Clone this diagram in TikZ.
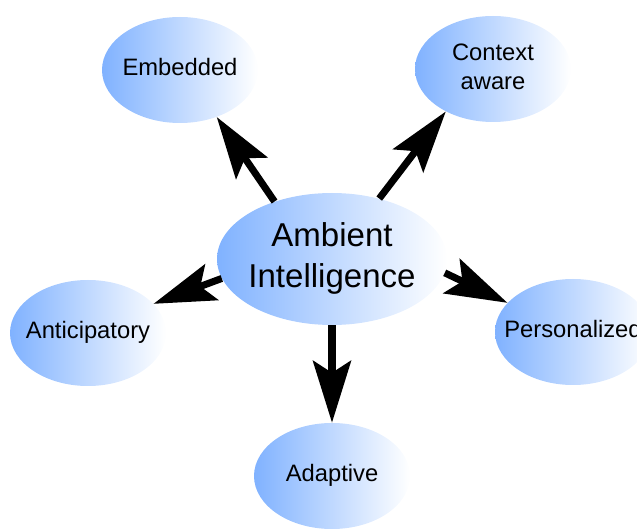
\documentclass[tikz,border=0pt]{standalone}
\usepackage{fontspec}
\setmainfont{Liberation Sans}
\usetikzlibrary{shapes.geometric,arrows.meta}
\definecolor{ellblue}{RGB}{128,178,255}
\newcommand{\nowidth}[1]{\makebox[0pt]{#1}}

\begin{document}
\begin{tikzpicture}[
  bubble/.style={ellipse, inner sep=0pt, left color=ellblue, right color=white,
    minimum width=3.9cm, minimum height=2.65cm, font=\fontsize{16.9}{20.6}\selectfont},
  word/.style={bubble, text height=12.1pt, text depth=3.6pt},
  thick arrow/.style={line width=5pt, -{Stealth[length=44pt,width=27pt,inset=8.5pt]}}
]
\clip (0,0) rectangle (15.925,-13.225);

\node [bubble, minimum width=5.75cm, minimum height=3.3cm, font=\fontsize{23.5}{28.5}\selectfont] (v1) at (8.3,-6.475) {\nowidth{\begin{tabular}{@{}c@{}}Ambient\\Intelligence\end{tabular}}};
\node [word] (v2) at (4.5,-1.75) {\nowidth{Embedded}};
\node [bubble] (v3) at (12.325,-1.725) {\nowidth{\begin{tabular}{@{}c@{}}Context\\aware\end{tabular}}};
\node [word] (v4) at (2.2,-8.325) {\nowidth{Anticipatory}};
\node [word] (v5) at (14.325,-8.3) {\nowidth{Personalized}};
\node [word] (v6) at (8.3,-11.9) {\nowidth{Adaptive}};

\draw [thick arrow] (v1.135) -- (v2.-52);
\draw [thick arrow] (v1.52) -- (v3.222);
\draw [thick arrow] (v1.190) -- (v4.24);
\draw [thick arrow] (v1.-7) -- (v5.156);
\draw [thick arrow] (v1.-90) -- (v6.90);

\end{tikzpicture}
\end{document}
